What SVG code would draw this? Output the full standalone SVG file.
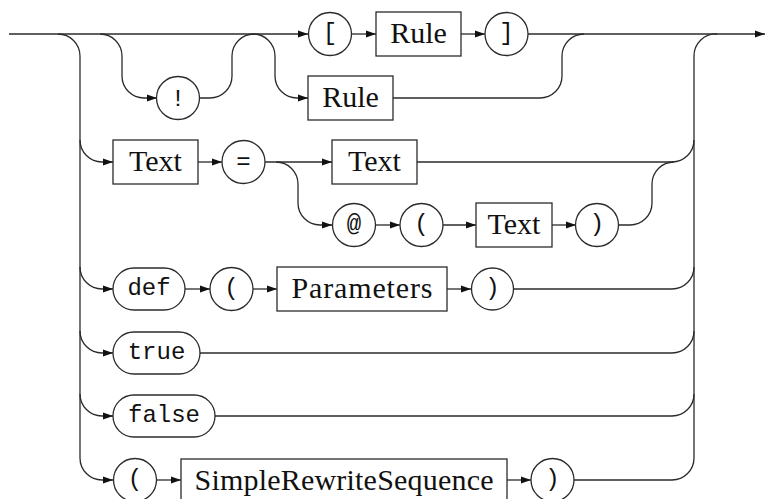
<svg xmlns="http://www.w3.org/2000/svg" width="765" height="499" viewBox="0 0 765 499">
<style>
.ln{fill:none;stroke:#2b2b2b;stroke-width:1.3}
.nd{fill:#fff;stroke:#2b2b2b;stroke-width:1.3}
.tt{font-family:'Liberation Mono',monospace;font-size:24px;text-anchor:middle;fill:#111}
.rm{font-family:'Liberation Serif','Times New Roman',serif;font-size:30px;text-anchor:middle;fill:#111}
</style>
<defs>
<marker id="a" markerWidth="10" markerHeight="8" refX="10" refY="4" orient="auto" markerUnits="userSpaceOnUse"><path d="M0,0.6 L10,4 L0,7.4 z" fill="#111"/></marker>
</defs>
<g id="connectors">
<path class="ln" d="M9,34 H308" marker-end="url(#a)"/>
<path class="ln" d="M528,34 H765" marker-end="url(#a)"/>
<path class="ln" d="M352,34 H376" marker-end="url(#a)"/>
<path class="ln" d="M461,34 H485" marker-end="url(#a)"/>
<path class="ln" d="M100,34 A22,22 0 0 1 122,56 V76 A22,22 0 0 0 144,98 H157" marker-end="url(#a)"/>
<path class="ln" d="M199,98 H210 A22,22 0 0 0 232,76 V56 A22,22 0 0 1 254,34"/>
<path class="ln" d="M253,34 A22,22 0 0 1 275,56 V76 A22,22 0 0 0 297,98 H308" marker-end="url(#a)"/>
<path class="ln" d="M393,98 H540 A22,22 0 0 0 562,76 V56 A22,22 0 0 1 584,34"/>
<path class="ln" d="M58,34 A22,22 0 0 1 80,56 V458"/>
<path class="ln" d="M717,34 A22,22 0 0 0 694,56 V458"/>
<path class="ln" d="M80,140 A22,22 0 0 0 102,162 H113" marker-end="url(#a)"/>
<path class="ln" d="M198,162 H222" marker-end="url(#a)"/>
<path class="ln" d="M265,162 H332" marker-end="url(#a)"/>
<path class="ln" d="M417,162 H672 A22,22 0 0 0 694,140"/>
<path class="ln" d="M276,162 A22,22 0 0 1 298,184 V203 A22,22 0 0 0 320,225 H332" marker-end="url(#a)"/>
<path class="ln" d="M376,225 H400" marker-end="url(#a)"/>
<path class="ln" d="M443,225 H476" marker-end="url(#a)"/>
<path class="ln" d="M552,225 H576" marker-end="url(#a)"/>
<path class="ln" d="M618,225 H630 A22,22 0 0 0 652,203 V184 A22,22 0 0 1 674,162"/>
<path class="ln" d="M80,267 A22,22 0 0 0 102,289 H113" marker-end="url(#a)"/>
<path class="ln" d="M185,289 H210" marker-end="url(#a)"/>
<path class="ln" d="M253,289 H277" marker-end="url(#a)"/>
<path class="ln" d="M447,289 H471" marker-end="url(#a)"/>
<path class="ln" d="M514,289 H672 A22,22 0 0 0 694,267"/>
<path class="ln" d="M80,331 A22,22 0 0 0 102,353 H113" marker-end="url(#a)"/>
<path class="ln" d="M200,353 H672 A22,22 0 0 0 694,331"/>
<path class="ln" d="M80,394 A22,22 0 0 0 102,416 H113" marker-end="url(#a)"/>
<path class="ln" d="M215,416 H672 A22,22 0 0 0 694,394"/>
<path class="ln" d="M80,458 A22,22 0 0 0 102,480 H113" marker-end="url(#a)"/>
<path class="ln" d="M157,480 H181" marker-end="url(#a)"/>
<path class="ln" d="M507,480 H531" marker-end="url(#a)"/>
<path class="ln" d="M574,480 H672 A22,22 0 0 0 694,458"/>
</g>
<g id="n-lbrack"><circle class="nd" cx="330" cy="34" r="21.5"/><text class="tt" x="330" y="40">[</text></g>
<g id="n-rule1"><rect class="nd" x="376" y="12" width="85" height="44"/><text class="rm" x="418.5" y="43">Rule</text></g>
<g id="n-rbrack"><circle class="nd" cx="506.5" cy="34" r="21.5"/><text class="tt" x="506.5" y="40">]</text></g>
<g id="n-bang"><circle class="nd" cx="178" cy="98" r="21.5"/><text class="tt" x="178" y="106">!</text></g>
<g id="n-rule2"><rect class="nd" x="308" y="76" width="85" height="44"/><text class="rm" x="350.5" y="107">Rule</text></g>
<g id="n-text1"><rect class="nd" x="113" y="140" width="85" height="44"/><text class="rm" x="155.5" y="171">Text</text></g>
<g id="n-eq"><circle class="nd" cx="243.5" cy="162" r="21.5"/><text class="tt" x="243.5" y="169">=</text></g>
<g id="n-text2"><rect class="nd" x="332" y="140" width="85" height="44"/><text class="rm" x="374.5" y="171">Text</text></g>
<g id="n-at"><circle class="nd" cx="354" cy="225" r="21.5"/><text class="tt" x="354" y="231">@</text></g>
<g id="n-lpar1"><circle class="nd" cx="421.5" cy="225" r="21.5"/><text class="tt" x="421.5" y="231">(</text></g>
<g id="n-text3"><rect class="nd" x="476" y="203" width="76" height="44"/><text class="rm" x="514" y="234">Text</text></g>
<g id="n-rpar1"><circle class="nd" cx="597" cy="225" r="21.5"/><text class="tt" x="597" y="231">)</text></g>
<g id="n-def"><rect class="nd" x="113" y="268" width="72" height="42" rx="21" ry="21"/><text class="tt" x="149" y="295">def</text></g>
<g id="n-lpar2"><circle class="nd" cx="231.5" cy="289" r="21.5"/><text class="tt" x="231.5" y="295">(</text></g>
<g id="n-params"><rect class="nd" x="277" y="267" width="170" height="44"/><text class="rm" x="362" y="298" textLength="141">Parameters</text></g>
<g id="n-rpar2"><circle class="nd" cx="492.5" cy="289" r="21"/><text class="tt" x="492.5" y="295">)</text></g>
<g id="n-true"><rect class="nd" x="113" y="332" width="87" height="42" rx="21" ry="21"/><text class="tt" x="156.5" y="359">true</text></g>
<g id="n-false"><rect class="nd" x="113" y="395" width="102" height="42" rx="21" ry="21"/><text class="tt" x="164" y="422">false</text></g>
<g id="n-lpar3"><circle class="nd" cx="135" cy="480" r="21.5"/><text class="tt" x="135" y="486">(</text></g>
<g id="n-srs"><rect class="nd" x="181" y="459" width="326" height="44"/><text class="rm" x="344" y="490" textLength="299">SimpleRewriteSequence</text></g>
<g id="n-rpar3"><circle class="nd" cx="552.5" cy="480" r="21.5"/><text class="tt" x="552.5" y="486">)</text></g>
</svg>
